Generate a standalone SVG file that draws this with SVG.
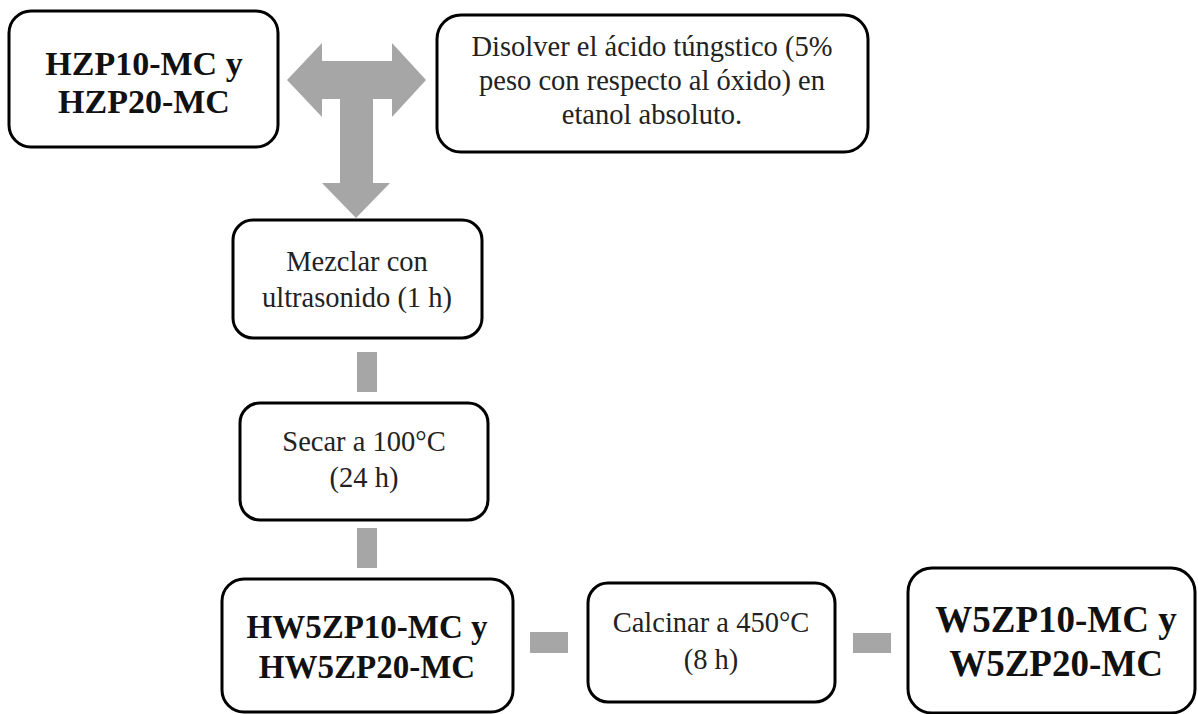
<svg xmlns="http://www.w3.org/2000/svg" width="1198" height="714" viewBox="0 0 1198 714">
<style>
.box{fill:#fff;stroke:#000;stroke-width:3}
.t{font-family:"Liberation Serif","Times New Roman",serif;font-size:28.5px;fill:#222;text-anchor:middle}
.b{font-family:"Liberation Serif","Times New Roman",serif;font-weight:bold;fill:#111;text-anchor:middle}
.c{fill:#a6a6a6}
</style>
<rect width="1198" height="714" fill="#fff"/>
<g id="connectors">
<path class="c" d="M287,80 L322,43 L322,61 L392,61 L392,43 L426,80 L392,117 L392,99 L373,99 L373,183 L390,183 L356,218 L322,183 L340,183 L340,99 L322,99 L322,117 Z"/>
<rect class="c" x="357" y="352" width="20" height="40"/>
<rect class="c" x="357" y="528" width="20" height="40"/>
<rect class="c" x="530" y="632" width="38" height="21"/>
<rect class="c" x="853" y="633" width="38" height="20"/>
</g>
<g id="n1">
<rect class="box" x="9" y="11" width="269" height="136" rx="22"/>
<text class="b" font-size="34" x="144" y="75">HZP10-MC y</text>
<text class="b" font-size="34" x="144" y="113">HZP20-MC</text>
</g>
<g id="n2">
<rect class="box" x="437" y="15" width="431" height="137" rx="24"/>
<text class="t" x="652" y="56">Disolver el ácido túngstico (5%</text>
<text class="t" x="652" y="90">peso con respecto al óxido) en</text>
<text class="t" x="652" y="124">etanol absoluto.</text>
</g>
<g id="n3">
<rect class="box" x="233" y="220" width="249" height="118" rx="20"/>
<text class="t" x="357" y="271">Mezclar con</text>
<text class="t" x="357" y="307">ultrasonido (1 h)</text>
</g>
<g id="n4">
<rect class="box" x="240" y="403" width="248" height="117" rx="20"/>
<text class="t" x="364" y="451">Secar a 100°C</text>
<text class="t" x="364" y="487">(24 h)</text>
</g>
<g id="n5">
<rect class="box" x="222" y="579" width="291" height="133" rx="22"/>
<text class="b" font-size="33" x="367" y="638">HW5ZP10-MC y</text>
<text class="b" font-size="33" x="367" y="678">HW5ZP20-MC</text>
</g>
<g id="n6">
<rect class="box" x="588" y="583" width="247" height="119" rx="20"/>
<text class="t" x="711" y="632">Calcinar a 450°C</text>
<text class="t" x="711" y="669">(8 h)</text>
</g>
<g id="n7">
<rect class="box" x="908" y="568" width="287" height="145" rx="24"/>
<text class="b" font-size="37" x="1056" y="632">W5ZP10-MC y</text>
<text class="b" font-size="37" x="1056" y="676">W5ZP20-MC</text>
</g>
</svg>
